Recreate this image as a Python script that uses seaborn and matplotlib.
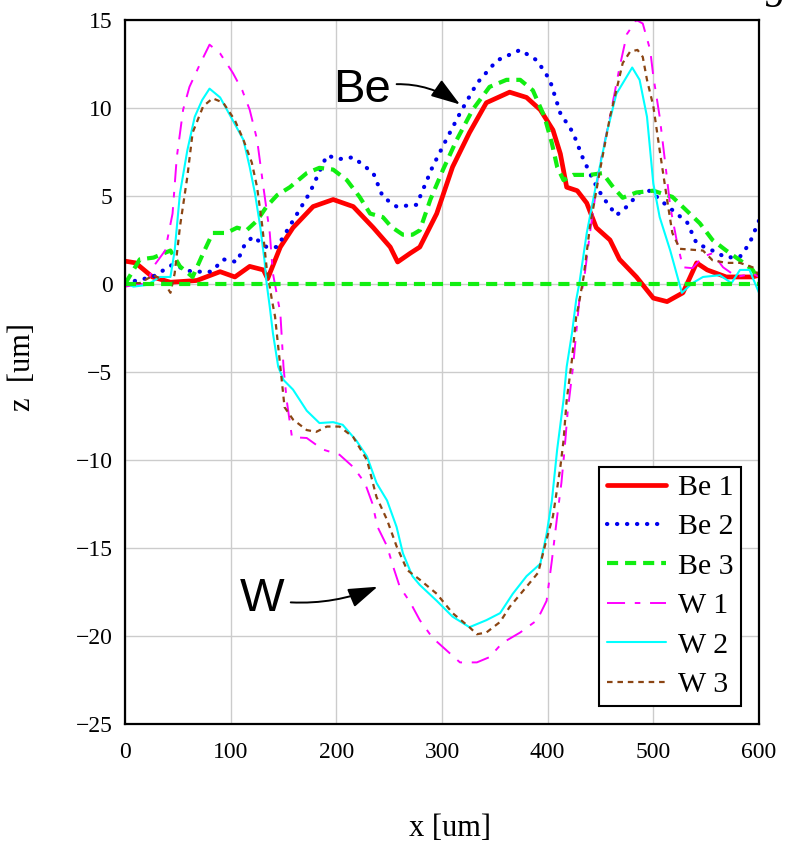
import matplotlib
matplotlib.use("Agg")
import matplotlib.pyplot as plt
import seaborn as sns
import numpy as np
import pandas as pd

# ---------------- data ----------------
be1_x = [0, 10, 26, 43, 68, 90, 104, 118, 131, 135, 147, 159, 178, 197, 216, 235, 251, 258, 270, 279,
         295, 310, 326, 342, 364, 380, 393, 405, 412, 418, 428, 437, 446, 459, 468, 484, 500, 513,
         528, 541, 551, 569, 594, 600]
be1_y = [1.3, 1.2, 0.4, 0.1, 0.2, 0.7, 0.4, 1.0, 0.8, 0.3, 2.1, 3.2, 4.4, 4.8, 4.4, 3.2, 2.1, 1.25, 1.75, 2.1,
         4.0, 6.65, 8.6, 10.3, 10.9, 10.6, 9.9, 8.75, 7.4, 5.5, 5.3, 4.6, 3.2, 2.5, 1.4, 0.4, -0.8, -1.0,
         -0.5, 1.2, 0.8, 0.4, 0.4, 0.5]

be2_x = [0, 26, 45, 63, 82, 93, 106, 113, 121, 134, 144, 159, 175, 191, 203, 216, 235, 244, 257, 276,
         291, 304, 317, 333, 352, 374, 390, 402, 412, 424, 433, 443, 452, 465, 475, 487, 497, 506, 522,
         532, 541, 556, 569, 582, 591, 600]
be2_y = [0.05, 0.4, 1.1, 0.7, 0.7, 1.4, 1.25, 2.2, 2.7, 2.1, 2.1, 3.6, 5.2, 7.3, 7.1, 7.2, 6.3, 4.95, 4.4, 4.5,
         6.65, 8.2, 9.7, 11.4, 12.7, 13.3, 12.7, 11.6, 9.7, 8.6, 7.2, 5.9, 4.95, 3.9, 4.4, 5.2, 5.3, 4.8, 4.0,
         3.5, 2.3, 1.9, 1.5, 1.55, 2.3, 3.6]

be3_x = [0, 14, 27, 43, 52, 64, 74, 83, 96, 106, 115, 125, 134, 144, 156, 172, 184, 197, 210, 222, 232,
         244, 252, 263, 272, 279, 289, 301, 314, 329, 345, 361, 374, 386, 397, 404, 409, 415, 424, 440,
         452, 462, 471, 484, 500, 518, 531, 544, 556, 569, 582, 594, 600]
be3_y = [0.0, 1.4, 1.5, 1.9, 1.0, 0.4, 1.75, 2.9, 2.9, 3.2, 3.05, 3.6, 4.4, 5.05, 5.5, 6.3, 6.6, 6.5, 5.9, 4.95, 4.0,
         3.8, 3.25, 2.8, 2.8, 3.05, 4.8, 6.5, 8.2, 9.9, 11.2, 11.6, 11.6, 11.0, 9.5, 8.0, 6.65, 5.9, 6.2, 6.2,
         6.3, 5.5, 4.9, 5.2, 5.3, 4.95, 4.2, 3.45, 2.5, 1.9, 1.35, 0.8, 0.2]

base_x = [0, 600]
base_y = [0.0, 0.0]

w1_x = [0, 21, 27, 38, 45, 49, 55, 61, 71, 80, 90, 102, 111, 118, 125, 131, 137, 140, 147, 150, 153, 158,
        172, 187, 203, 216, 227, 234, 239, 248, 254, 260, 270, 279, 291, 304, 317, 333, 345, 357, 374, 390,
        399, 404, 409, 413, 416, 419, 424, 427, 430, 434, 440, 449, 459, 468, 475, 484, 490, 497, 500, 506,
        511, 516, 522, 528, 537, 547, 556, 566, 579, 594, 600]
w1_y = [-0.15, 0.05, 1.0, 1.9, 4.0, 7.2, 9.9, 11.2, 12.5, 13.6, 13.1, 12.0, 11.0, 9.9, 8.2, 5.5, 2.9, 0.6, -1.65,
        -4.7, -6.6, -8.7, -8.75, -9.4, -9.7, -10.4, -11.3, -12.45, -13.8, -14.9, -16.1, -17.2, -18.1, -19.1,
        -20.1, -20.8, -21.5, -21.5, -21.2, -20.4, -19.8, -19.1, -18.0, -15.7, -13.2, -11.3, -9.4, -7.2, -4.7,
        -2.8, -0.9, 0.05, 2.9, 6.65, 9.5, 12.3, 14.2, 15.0, 14.8, 13.3, 11.8, 9.5, 7.0, 4.4, 2.5, 0.95, 0.9,
        1.55, 1.75, 0.95, 0.4, 0.6, 0.4]

w2_x = [0, 8, 21, 33, 43, 47, 52, 59, 66, 73, 80, 90, 102, 112, 118, 123, 128, 132, 134, 137, 140, 145, 150,
        159, 172, 184, 197, 206, 219, 229, 238, 248, 257, 263, 272, 279, 295, 310, 326, 342, 355, 367, 380,
        393, 399, 404, 409, 415, 418, 423, 427, 430, 437, 446, 456, 465, 480, 487, 494, 500, 506, 516, 527,
        537, 547, 563, 574, 582, 591, 600]
w2_y = [0.05, -0.15, -0.05, 0.4, 0.4, 1.9, 5.15, 7.6, 9.5, 10.45, 11.1, 10.6, 9.3, 8.2, 6.65, 5.15, 3.25, 1.35,
        0.05, -1.3, -2.8, -4.7, -5.45, -6.0, -7.2, -7.9, -7.85, -8.0, -8.9, -9.8, -11.3, -12.3, -13.8, -15.3,
        -16.6, -17.1, -18.0, -18.9, -19.5, -19.1, -18.7, -17.6, -16.6, -15.9, -14.2, -12.3, -9.4, -6.6, -4.7,
        -2.8, -0.9, 0.05, 2.9, 5.7, 8.6, 10.8, 12.3, 11.6, 9.5, 5.7, 3.8, 1.9, -0.5, 0.05, 0.4, 0.5, 0.05,
        0.8, 0.8, -0.5]

w3_x = [0, 14, 27, 36, 43, 47, 52, 59, 64, 74, 83, 93, 104, 112, 120, 125, 130, 134, 139, 142, 147, 151, 159,
        172, 181, 191, 203, 216, 229, 238, 248, 257, 267, 279, 295, 310, 326, 333, 342, 355, 364, 380, 391,
        399, 405, 412, 415, 418, 423, 427, 429, 434, 440, 449, 459, 465, 471, 478, 485, 490, 494, 500, 506,
        513, 518, 525, 547, 556, 569, 582, 594, 600]
w3_y = [0.05, 0.05, 0.5, 0.2, -0.5, 0.6, 3.25, 6.1, 8.6, 10.1, 10.55, 10.3, 9.3, 8.2, 6.9, 5.5, 3.25, 0.95, -0.9,
        -1.85, -4.7, -7.0, -7.7, -8.3, -8.4, -8.1, -8.1, -8.7, -10.0, -12.1, -13.4, -14.9, -16.25, -16.8,
        -17.6, -18.7, -19.5, -19.9, -19.8, -19.2, -18.35, -17.2, -16.4, -14.5, -13.2, -10.4, -8.9, -6.6, -4.3,
        -1.85, -1.3, 0.4, 3.25, 6.3, 9.5, 11.0, 12.55, 13.2, 13.3, 12.9, 11.6, 10.1, 7.6, 4.8, 2.9, 2.0,
        1.9, 1.35, 1.2, 1.2, 0.95, 0.5]

labels = ["Be 1", "Be 2", "Be 3", "W 1", "W 2", "W 3"]
x_ticks = [0, 100, 200, 300, 400, 500, 600]
y_ticks = [-25, -20, -15, -10, -5, 0, 5, 10, 15]

# ---------------- style ----------------
sns.set_theme(style="whitegrid")
plt.rcParams["font.family"] = ["Liberation Serif", "DejaVu Serif"]
plt.rcParams["lines.scale_dashes"] = False
plt.rcParams["axes.unicode_minus"] = True
plt.rcParams["text.color"] = "black"

fig = plt.figure(figsize=(7.87, 8.51), dpi=100)
ax = fig.add_axes([125 / 787, 1 - 724 / 851, 634 / 787, 704 / 851])

series = [
    (be1_x, be1_y, labels[0], dict(color="#ff0000", linewidth=3.4, linestyle="-")),
    (be2_x, be2_y, labels[1], dict(color="#0000ee", linewidth=3.0, linestyle=(0, (0.2, 7.0)),
                                   dash_capstyle="round", solid_capstyle="round")),
    (be3_x, be3_y, labels[2], dict(color="#11ee11", linewidth=3.0, linestyle=(0, (8, 5)))),
    (w1_x, w1_y, labels[3], dict(color="#ff00ff", linewidth=1.4, linestyle=(0, (13, 7, 4, 7)))),
    (w2_x, w2_y, labels[4], dict(color="#00ffff", linewidth=1.5, linestyle="-")),
    (w3_x, w3_y, labels[5], dict(color="#8b4513", linewidth=1.6, linestyle=(0, (4, 3.5)))),
]

for xs, ys, lab, kw in series:
    df = pd.DataFrame({"x": xs, "y": ys})
    sns.lineplot(data=df, x="x", y="y", ax=ax, label=lab, sort=False, estimator=None, **kw)

# zero baseline (same style as Be 3)
sns.lineplot(x=base_x, y=base_y, ax=ax, color="#11ee11", linewidth=3.0,
             linestyle=(0, (8, 5)), label="_nolegend_", sort=False, estimator=None)

ax.set_xlim(0, 600)
ax.set_ylim(-25, 15)
ax.set_xticks(x_ticks)
ax.set_yticks(y_ticks)
ax.tick_params(length=0, labelsize=17, colors="black")
ax.tick_params(axis="x", pad=13)
ax.tick_params(axis="y", pad=9)
ax.grid(True, color="#cccccc", linewidth=1.0)
for s in ax.spines.values():
    s.set_color("black")
    s.set_linewidth(1.6)

ax.set_xlabel("x [um]", fontsize=22, color="black")
ax.set_ylabel("z  [um]", fontsize=22, color="black")
ax.xaxis.set_label_coords(0.513, -0.128)
ax.yaxis.set_label_coords(-0.139, 0.507)

leg = ax.legend(loc="lower right", bbox_to_anchor=(0.972, 0.026), borderaxespad=0,
                fontsize=21.5, handlelength=2.0, handletextpad=0.4, labelspacing=0.42,
                borderpad=0.25, fancybox=False, framealpha=1, edgecolor="black")
leg.get_frame().set_linewidth(1.5)
for t in leg.get_texts():
    t.set_color("black")

# annotations
arrow_kw = dict(arrowstyle="-|>,head_length=0.9,head_width=0.3", color="black", lw=1.4,
                mutation_scale=20, shrinkA=2, shrinkB=0)
ax.annotate("Be", xy=(317, 10.2), xytext=(224, 11.0), ha="center", va="center",
            fontsize=34, family="Liberation Sans", color="black",
            arrowprops=dict(connectionstyle="arc3,rad=-0.25", **arrow_kw))
ax.annotate("W", xy=(239, -17.2), xytext=(130, -17.9), ha="center", va="center",
            fontsize=34, family="Liberation Sans", color="black",
            arrowprops=dict(connectionstyle="arc3,rad=0.15", **arrow_kw))

fig.text(766 / 787, 1.0 + 2 / 851, "g", fontsize=30, family="Liberation Serif", style="italic",
         va="baseline", ha="left", color="black")

fig.savefig("out.png", dpi=100)
